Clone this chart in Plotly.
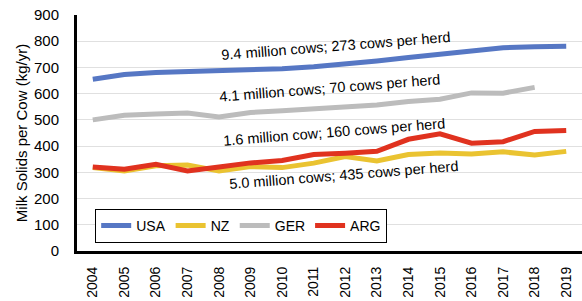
import plotly.graph_objects as go

years = [str(y) for y in range(2004, 2020)]
usa = [655, 673, 681, 685, 687, 690, 695, 703, 712, 725, 738, 750, 762, 775, 779, 781]
nz = [318, 305, 325, 328, 305, 322, 318, 335, 360, 343, 368, 374, 370, 378, 366, 380]
ger = [500, 518, 522, 526, 511, 528, 535, 542, 551, 557, 570, 579, 603, 602, 624, None]
arg = [320, 312, 331, 305, 320, 336, 345, 368, 373, 380, 426, 447, 411, 417, 456, 460]

series = [("USA", usa, "#5677C4"), ("NZ", nz, "#EAC331"), ("GER", ger, "#BCBCBC"), ("ARG", arg, "#E0321F")]

labels = [
    ("9.4 million cows; 273 cows per herd", 7.7, 783),
    ("4.1 million cows; 70 cows per herd", 7.5, 620),
    ("1.6 million cow; 160 cows per herd", 7.65, 452),
    ("5.0 million cows; 435 cows per herd", 7.95, 288),
]

fig = go.Figure()
for name, vals, col in series:
    fig.add_trace(go.Scatter(x=years, y=vals, mode="lines", name=name,
                             line=dict(color=col, width=5)))

for text, xi, yv in labels:
    fig.add_annotation(x=xi, y=yv, xref="x", yref="y", text=text, showarrow=False,
                       textangle=-4.5, font=dict(size=14.5, color="black"))

fig.update_layout(
    width=582, height=301,
    margin=dict(l=77, r=0, t=15, b=50),
    paper_bgcolor="white", plot_bgcolor="white",
    font=dict(family="Liberation Sans, Arial, sans-serif", size=14, color="black"),
    showlegend=True,
    legend=dict(orientation="h", x=0.036, y=0.178, xanchor="left", yanchor="top",
                bordercolor="black", borderwidth=1, bgcolor="white",
                font=dict(size=14), itemwidth=30, tracegroupgap=0),
)
fig.update_xaxes(type="category", range=[-0.5, 15.5], showline=True, linecolor="black",
                 linewidth=3, tickangle=-90, showgrid=False, ticks="", ticklabelstandoff=7,
                 tickfont=dict(size=14), automargin=False)
fig.update_yaxes(range=[0, 900], dtick=100, showline=True, linecolor="black", linewidth=3,
                 showgrid=True, gridcolor="#E0E0E0", gridwidth=1, ticks="", ticklabelstandoff=12,
                 zeroline=False, tickfont=dict(size=15), automargin=False,
                 title=dict(text="Milk Solids per Cow (kg/yr)", font=dict(size=15), standoff=3))

fig.write_html("out.html", config={"displayModeBar": False},
               post_script="document.body.style.margin='0';document.body.style.overflow='hidden';")
